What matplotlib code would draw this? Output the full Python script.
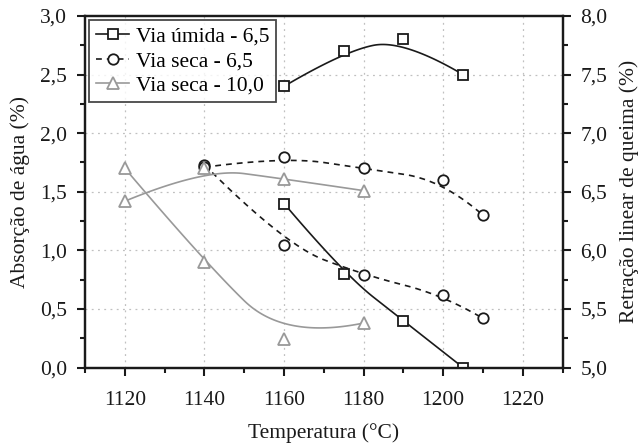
"""
Absorção de água e retração linear de queima vs temperatura.
"""
import matplotlib
matplotlib.use('Agg')
import matplotlib.pyplot as plt
from matplotlib.ticker import MultipleLocator, FuncFormatter
import numpy as np

plt.rcParams['font.family'] = ['Liberation Serif', 'DejaVu Serif']

# ============================================================
# DATA
# ============================================================
temp_umida = [1160, 1175, 1190, 1205]
abs_umida = [1.40, 0.80, 0.40, 0.00]
ret_umida = [7.40, 7.70, 7.80, 7.50]

temp_seca65 = [1140, 1160, 1180, 1200, 1210]
abs_seca65 = [1.73, 1.05, 0.79, 0.62, 0.42]
ret_seca65 = [6.71, 6.80, 6.70, 6.60, 6.30]

temp_seca10 = [1120, 1140, 1160, 1180]
abs_seca10 = [1.70, 0.90, 0.24, 0.38]
ret_seca10 = [6.42, 6.70, 6.61, 6.51]

labels = ['Via úmida - 6,5', 'Via seca - 6,5', 'Via seca - 10,0']

BLACK = '#1a1a1a'
GRAY = '#999999'
FS = 15.5


def comma(v, pos):
    return f'{v:.1f}'.replace('.', ',')


def bspline(x, y, n=60):
    # clamped uniform quadratic B-spline, data points as control points
    p = np.column_stack([x, y]).astype(float)
    starts = [p[0]] + [(p[i] + p[i + 1]) / 2 for i in range(1, len(p) - 2)]
    ends = starts[1:] + [p[-1]]
    ctrls = p[1:-1]
    t = np.linspace(0, 1, n)[:, None]
    segs = [(1 - t) ** 2 * s + 2 * t * (1 - t) * c + t ** 2 * e
            for s, c, e in zip(starts, ctrls, ends)]
    out = np.vstack(segs)
    return out[:, 0], out[:, 1]


# ============================================================
# FIGURE
# ============================================================
fig = plt.figure(figsize=(6.4, 4.45), dpi=100)
ax = fig.add_axes([0.133, 0.174, 0.746, 0.79])
ax2 = ax.twinx()

ax.set_xlim(1110, 1230)
ax.set_ylim(0, 3)
ax2.set_ylim(5, 8)

series = [
    (temp_umida, abs_umida, ret_umida, 's', '-', BLACK, 7),
    (temp_seca65, abs_seca65, ret_seca65, 'o', (0, (3.5, 3)), BLACK, 7.5),
    (temp_seca10, abs_seca10, ret_seca10, '^', '-', GRAY, 8),
]

handles = []
for (t, a, r, mk, ls, col, ms), lab in zip(series, labels):
    xs, ys = bspline(t, a)
    ax.plot(xs, ys, color=col, lw=1.2, ls=ls, zorder=3)
    xs, ys = bspline(t, r)
    ax2.plot(xs, ys, color=col, lw=1.2, ls=ls, zorder=3)
    ax.plot(t, a, ls='none', marker=mk, ms=ms, mfc='white', mec=col,
            mew=1.3, zorder=4)
    ax2.plot(t, r, ls='none', marker=mk, ms=ms, mfc='white', mec=col,
             mew=1.3, zorder=4)
    h, = ax.plot([], [], color=col, lw=1.2, ls=ls, marker=mk, ms=ms,
                 mfc='white', mec=col, mew=1.3)
    handles.append(h)

# grid
for gx in range(1120, 1230, 20):
    ax.axvline(gx, color='#c0c0c0', lw=0.9, ls=(0, (1.5, 3.5)), zorder=0)
for gy in np.arange(0.5, 3.0, 0.5):
    ax.axhline(gy, color='#c0c0c0', lw=0.9, ls=(0, (1.5, 3.5)), zorder=0)

# ticks
ax.xaxis.set_major_locator(MultipleLocator(20))
ax.xaxis.set_minor_locator(MultipleLocator(10))
ax.yaxis.set_major_locator(MultipleLocator(0.5))
ax.yaxis.set_minor_locator(MultipleLocator(0.25))
ax2.yaxis.set_major_locator(MultipleLocator(0.5))
ax2.yaxis.set_minor_locator(MultipleLocator(0.25))
ax.yaxis.set_major_formatter(FuncFormatter(comma))
ax2.yaxis.set_major_formatter(FuncFormatter(comma))

for a in (ax, ax2):
    a.tick_params(which='major', direction='out', length=6, width=1.5,
                  labelsize=FS, color=BLACK, labelcolor=BLACK, pad=7)
    a.tick_params(which='minor', direction='out', length=3.5, width=1.5,
                  color=BLACK)
    for s in a.spines.values():
        s.set_linewidth(1.6)
        s.set_color(BLACK)
ax.tick_params(top=False, which='both')
ax.tick_params(axis='x', which='major', pad=11)

ax.set_xlabel('Temperatura (°C)', fontsize=FS, color=BLACK, labelpad=9)
ax.set_ylabel('Absorção de água (%)', fontsize=FS, color=BLACK, labelpad=7)
ax2.set_ylabel('Retração linear de queima (%)', fontsize=FS, color=BLACK,
               labelpad=8)

leg = ax2.legend(handles, labels, loc='upper left', fontsize=FS,
                 frameon=True, fancybox=False, edgecolor=BLACK,
                 handlelength=1.55, handletextpad=0.3, borderpad=0.3,
                 labelspacing=0.2, borderaxespad=0.2)
leg.get_frame().set_linewidth(1.3)
leg.set_zorder(10)

fig.savefig('out.png', dpi=100, facecolor='white')
plt.close(fig)
